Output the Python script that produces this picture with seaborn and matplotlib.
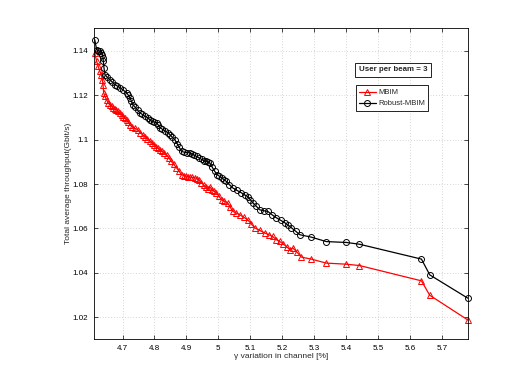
import matplotlib
matplotlib.use("Agg")
import matplotlib.pyplot as plt
import matplotlib.ticker as mticker
import numpy as np
import pandas as pd
import seaborn as sns

# gamma variation [%] and throughput [Gbit/s]
gamma_mbim = [4.613, 4.619, 4.624, 4.629, 4.634, 4.637, 4.639, 4.641, 4.645, 4.650,
              4.656, 4.661, 4.666, 4.671, 4.676, 4.681, 4.686, 4.691, 4.697, 4.703,
              4.708, 4.713, 4.718, 4.723, 4.730, 4.738, 4.748, 4.756, 4.763, 4.770,
              4.778, 4.785, 4.791, 4.798, 4.805, 4.811, 4.817, 4.824, 4.831, 4.838,
              4.845, 4.853, 4.860, 4.869, 4.877, 4.885, 4.893, 4.899, 4.904, 4.912,
              4.919, 4.926, 4.933, 4.940, 4.947, 4.955, 4.961, 4.967, 4.973, 4.980,
              4.987, 4.994, 5.002, 5.010, 5.019, 5.029, 5.037, 5.045, 5.056, 5.067,
              5.080, 5.092, 5.103, 5.114, 5.130, 5.145, 5.158, 5.170, 5.182, 5.192,
              5.203, 5.214, 5.224, 5.233, 5.247, 5.260, 5.291, 5.338, 5.401, 5.442,
              5.636, 5.662, 5.781]
tput_mbim = [1.1391, 1.1353, 1.1330, 1.1308, 1.1293, 1.1270, 1.1248, 1.1212, 1.1195, 1.1180,
             1.1165, 1.1157, 1.1150, 1.1142, 1.1138, 1.1135, 1.1128, 1.1120, 1.1113, 1.1102,
             1.1096, 1.1090, 1.1080, 1.1068, 1.1058, 1.1052, 1.1045, 1.1032, 1.1022, 1.1014,
             1.1005, 1.0996, 1.0987, 1.0978, 1.0968, 1.0961, 1.0955, 1.0947, 1.0940, 1.0932,
             1.0918, 1.0902, 1.0889, 1.0874, 1.0858, 1.0842, 1.0838, 1.0836, 1.0834, 1.0832,
             1.0830, 1.0829, 1.0825, 1.0818, 1.0806, 1.0795, 1.0786, 1.0776, 1.0789, 1.0775,
             1.0768, 1.0761, 1.0745, 1.0729, 1.0722, 1.0716, 1.0697, 1.0677, 1.0670, 1.0662,
             1.0650, 1.0639, 1.0621, 1.0603, 1.0591, 1.0580, 1.0572, 1.0564, 1.0549, 1.0542,
             1.0530, 1.0518, 1.0504, 1.0513, 1.0492, 1.0471, 1.0462, 1.0444, 1.0439, 1.0433,
             1.0364, 1.0299, 1.0188]

gamma_robust = [4.613, 4.619, 4.624, 4.629, 4.634, 4.637, 4.639, 4.640, 4.642, 4.645,
                4.652, 4.660, 4.668, 4.676, 4.684, 4.692, 4.702, 4.713, 4.718, 4.723,
                4.728, 4.732, 4.740, 4.747, 4.754, 4.762, 4.770, 4.779, 4.785, 4.791,
                4.799, 4.807, 4.812, 4.817, 4.825, 4.833, 4.842, 4.849, 4.856, 4.864,
                4.871, 4.878, 4.885, 4.893, 4.902, 4.911, 4.918, 4.925, 4.932, 4.940,
                4.948, 4.955, 4.963, 4.968, 4.973, 4.981, 4.989, 4.996, 5.003, 5.010,
                5.018, 5.025, 5.035, 5.045, 5.058, 5.072, 5.082, 5.092, 5.100, 5.108,
                5.119, 5.130, 5.142, 5.155, 5.168, 5.182, 5.195, 5.208, 5.219, 5.229,
                5.242, 5.255, 5.291, 5.338, 5.401, 5.442, 5.636, 5.662, 5.781]
tput_robust = [1.1451, 1.1406, 1.1402, 1.1399, 1.1392, 1.1384, 1.1368, 1.1353, 1.1324, 1.1293,
               1.1282, 1.1271, 1.1260, 1.1248, 1.1242, 1.1235, 1.1224, 1.1212, 1.1201, 1.1190,
               1.1174, 1.1158, 1.1146, 1.1134, 1.1122, 1.1114, 1.1106, 1.1099, 1.1091, 1.1083,
               1.1080, 1.1077, 1.1066, 1.1055, 1.1047, 1.1040, 1.1032, 1.1022, 1.1011, 1.1000,
               1.0982, 1.0965, 1.0947, 1.0944, 1.0942, 1.0941, 1.0935, 1.0930, 1.0925, 1.0918,
               1.0911, 1.0906, 1.0902, 1.0899, 1.0896, 1.0876, 1.0857, 1.0843, 1.0836, 1.0829,
               1.0820, 1.0812, 1.0797, 1.0783, 1.0772, 1.0761, 1.0752, 1.0744, 1.0730, 1.0716,
               1.0700, 1.0684, 1.0680, 1.0677, 1.0662, 1.0648, 1.0637, 1.0626, 1.0614, 1.0603,
               1.0588, 1.0572, 1.0561, 1.0541, 1.0537, 1.0529, 1.0462, 1.0391, 1.0286]

x_ticks = [4.7, 4.8, 4.9, 5.0, 5.1, 5.2, 5.3, 5.4, 5.5, 5.6, 5.7]
y_ticks = [1.02, 1.04, 1.06, 1.08, 1.10, 1.12, 1.14]

sns.set_style("white")
plt.rcParams["font.family"] = ["Liberation Sans Narrow", "Liberation Sans", "DejaVu Sans"]

fig = plt.figure(figsize=(5.18, 3.82), dpi=100)
ax = fig.add_axes([0.181, 0.1126, 0.722, 0.8144])

sns.lineplot(x=gamma_mbim, y=tput_mbim, sort=False, ax=ax, color="#ff0000",
             marker="^", markersize=4.3, markerfacecolor="none", markeredgecolor="#ff0000",
             markeredgewidth=0.7, linewidth=0.9, label="MBIM", clip_on=False)
sns.lineplot(x=gamma_robust, y=tput_robust, sort=False, ax=ax, color="black",
             marker="o", markersize=4.3, markerfacecolor="none", markeredgecolor="black",
             markeredgewidth=0.7, linewidth=0.9, label="Robust-MBIM", clip_on=False)

ax.set_xlim(4.610, 5.781)
ax.set_ylim(1.0102, 1.1504)
ax.set_xticks(x_ticks)
ax.set_yticks(y_ticks)
ax.xaxis.set_major_formatter(mticker.FormatStrFormatter("%g"))
ax.yaxis.set_major_formatter(mticker.FormatStrFormatter("%g"))
ax.tick_params(direction="in", length=3, width=0.5, labelsize=5.8, pad=4,
               top=True, right=True, bottom=True, left=True, colors="black")
ax.grid(True, linestyle=(0, (1, 3)), linewidth=0.5, color="#b0b0b0")
for s in ax.spines.values():
    s.set_visible(True)
    s.set_color("black")
    s.set_linewidth(0.6)

ax.set_xlabel("\u03b3 variation in channel [%]", fontsize=6, labelpad=1)
ax.set_ylabel("Total average throughput(Gbit/s)", fontsize=6, labelpad=0)

leg = ax.legend(loc="upper left", bbox_to_anchor=(0.70, 0.815), fontsize=5.5,
                frameon=True, fancybox=False, edgecolor="black", framealpha=1,
                handlelength=2.2, borderpad=0.45, labelspacing=0.5, handletextpad=0.3,
                borderaxespad=0)
leg.get_frame().set_linewidth(0.6)

ax.text(0.708, 0.865, "User per beam = 3", transform=ax.transAxes, fontsize=5.7,
        fontweight="bold", ha="left", va="center",
        bbox=dict(boxstyle="square,pad=0.45", facecolor="white", edgecolor="black",
                  linewidth=0.6))

fig.savefig("out.png", dpi=100)
